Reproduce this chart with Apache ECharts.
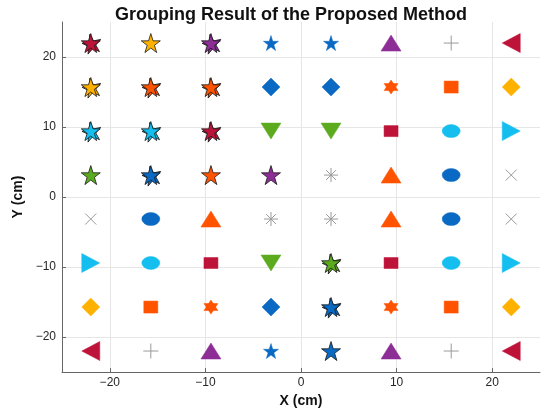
<!DOCTYPE html>
<html>
<head>
<meta charset="utf-8">
<script src="https://cdn.jsdelivr.net/npm/echarts@6/dist/echarts.min.js"></script>
<style>
html,body{margin:0;padding:0;background:#fff;}
#chart{width:550px;height:413px;}
</style>
</head>
<body>
<div id="chart"></div>
<script>
// ---- data ----
const title = 'Grouping Result of the Proposed Method';
const xName = 'X (cm)';
const yName = 'Y (cm)';
const xPositions = [-21.99, -15.71, -9.42, -3.14, 3.14, 9.42, 15.71, 21.99];
const yPositions = [21.99, 15.71, 9.42, 3.14, -3.14, -9.42, -15.71, -21.99];
// group code per cell (rows top -> bottom); '*X n' = star in colour of group X, n overlapping marks
const cellGroups = [
  ['*B2', '*H1', '*C2', 'D', 'D', 'C', 'A', 'B'],
  ['*H2', '*G2', '*G2', 'E', 'E', 'F', 'G', 'H'],
  ['*K2', '*K2', '*J2', 'I', 'I', 'J', 'K', 'L'],
  ['*I1', '*E2', '*G1', '*C1', 'M', 'N', 'O', 'P'],
  ['P', 'O', 'N', 'M', 'M', 'N', 'O', 'P'],
  ['L', 'K', 'J', 'I', '*I2', 'J', 'K', 'L'],
  ['H', 'G', 'F', 'E', '*E2', 'F', 'G', 'H'],
  ['B', 'A', 'C', 'D', '*E1', 'C', 'A', 'B']
];

// ---- styles ----
const C = {
  crimson: '#BE1339', orange: '#FF5300', yellow: '#FFB100', purple: '#8D2D96',
  green: '#5CAB1F', cyan: '#14BFF0', blue: '#0A69C2', gray: '#9a9a9a'
};
const STAR = 'path://M50 0 L61.23 34.55 L97.55 34.55 L68.17 55.9 L79.39 90.45 L50 69.1 L20.61 90.45 L31.83 55.9 L2.45 34.55 L38.77 34.55 Z';
const HEX = 'path://M50 0 L93.3 75 L6.7 75 Z M50 100 L6.7 25 L93.3 25 Z';
const PLUS = 'path://M50 0 L50 100 M0 50 L100 50';
const CROSS = 'path://M0 0 L100 100 M100 0 L0 100';
const ASTER = 'path://M50 0 L50 100 M0 50 L100 50 M15 15 L85 85 M85 15 L15 85';
const groupStyle = {
  A: {symbol: PLUS, size: 15, color: C.gray, line: true},
  B: {symbol: 'triangle', size: [19, 18], rotate: 90, color: C.crimson},
  C: {symbol: 'triangle', size: [20, 16], color: C.purple},
  D: {symbol: STAR, size: 15, color: C.blue},
  E: {symbol: 'diamond', size: [18, 18], color: C.blue},
  F: {symbol: HEX, size: 14, color: C.orange},
  G: {symbol: 'rect', size: [14, 12], color: C.orange},
  H: {symbol: 'diamond', size: [18, 18], color: C.yellow},
  I: {symbol: 'triangle', size: [20, 16], rotate: 180, color: C.green},
  J: {symbol: 'rect', size: [14, 11], color: C.crimson},
  K: {symbol: 'circle', size: [18, 13], color: C.cyan},
  L: {symbol: 'triangle', size: [19, 18], rotate: -90, color: C.cyan},
  M: {symbol: ASTER, size: 14, color: C.gray, line: true},
  N: {symbol: 'triangle', size: [20, 16], color: C.orange},
  O: {symbol: 'circle', size: [18, 13], color: C.blue},
  P: {symbol: CROSS, size: 11, color: C.gray, line: true}
};

const data = [];
cellGroups.forEach((row, r) => {
  row.forEach((code, c) => {
    const x = xPositions[c], y = yPositions[r];
    if (code[0] === '*') {
      const g = groupStyle[code[1]];
      const n = parseInt(code.slice(2), 10);
      for (let k = n - 1; k >= 0; k--) {
        data.push({
          value: [x, y], symbol: STAR, symbolSize: 19, symbolRotate: k * 12,
          symbolOffset: [k * 1, k * 0.5],
          itemStyle: {color: g.color, borderColor: '#1a1a1a', borderWidth: 0.8, opacity: 1}
        });
      }
    } else {
      const g = groupStyle[code];
      data.push({
        value: [x, y], symbol: g.symbol, symbolSize: g.size, symbolRotate: g.rotate || 0,
        itemStyle: g.line ? {color: 'none', borderColor: g.color, borderWidth: 1, opacity: 1}
                          : {color: g.color, borderColor: g.color, borderWidth: 0.5, opacity: 1}
      });
    }
  });
});

const minus = v => (v < 0 ? '\u2212' + Math.abs(v) : String(v));
const axisCommon = {
  type: 'value', min: -25, max: 25,
  axisLine: {show: true, onZero: false, lineStyle: {color: '#666', width: 1}},
  axisTick: {show: true, inside: true, length: 4, lineStyle: {color: '#666'}},
  axisLabel: {color: '#262626', fontSize: 12, fontFamily: 'Liberation Sans', formatter: minus,
              showMinLabel: false, showMaxLabel: false},
  splitLine: {show: true, showMinLine: false, showMaxLine: false, lineStyle: {color: '#e6e6e6', width: 1}},
  nameLocation: 'middle',
  nameTextStyle: {color: '#111', fontSize: 14, fontWeight: 'bold', fontFamily: 'Liberation Sans'}
};

const chart = echarts.init(document.getElementById('chart'), null, {renderer: 'canvas'});
chart.setOption({
  animation: false,
  backgroundColor: '#fff',
  title: {
    text: title, left: 286, top: 1, textAlign: 'center',
    textStyle: {fontSize: 18, fontWeight: 'bold', color: '#111', fontFamily: 'Liberation Sans'}
  },
  grid: {left: 62, right: 10, top: 22, bottom: 38, containLabel: false},
  xAxis: Object.assign({}, axisCommon, {name: xName, nameGap: 19,
    axisLabel: Object.assign({}, axisCommon.axisLabel, {margin: 5})}),
  yAxis: Object.assign({}, axisCommon, {name: yName, nameGap: 33,
    axisLabel: Object.assign({}, axisCommon.axisLabel, {margin: 6})}),
  series: [{type: 'scatter', data: data, z: 3, itemStyle: {opacity: 1}, emphasis: {disabled: true}}]
});
</script>
</body>
</html>
